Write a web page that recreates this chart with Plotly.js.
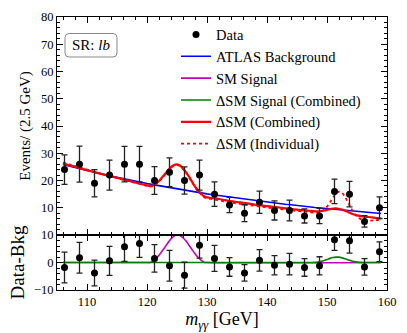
<!DOCTYPE html>
<html>
<head>
<meta charset="utf-8">
<script src="https://cdn.plot.ly/plotly-3.0.1.min.js"></script>
<style>html,body{margin:0;padding:0;background:#fff;}#chart{width:407px;height:333px;}</style>
</head>
<body>
<div id="chart"></div>
<script>
// Bin centres (GeV) and observed data
const binCentres = [106.25,108.75,111.25,113.75,116.25,118.75,121.25,123.75,126.25,128.75,131.25,133.75,136.25,138.75,141.25,143.75,146.25,148.75,151.25,153.75,156.25,158.75];
const dataEvents = [24,26,19,22,26,26,20,23,20,22,15,11,8,12,9,9,7,7,16,15,5,10];
const dataErrors = [5.4,6.6,5.0,5.5,6.5,6.5,5.1,5.3,5.0,5.5,4.5,2.8,3.1,4.1,3.5,3.8,2.6,2.8,4.5,4.7,2.1,4.0];
const residuals = [-1.8,1.7,-3.8,0.6,5.7,6.9,1.5,-1.2,-4.6,6.3,1.5,-1.6,-3.8,0.8,-1.0,-0.6,-1.8,-1.2,8.3,7.9,-1.6,3.9];
const residualErrors = [5.6,5.6,4.7,5.3,5.3,5.0,5.0,5.6,4.7,4.7,4.7,3.4,3.0,3.9,3.5,3.9,3.2,3.3,3.9,4.5,3.0,3.6];

// ATLAS background curve
const bkgMass = [106,107,108,109,110,111,112,113,114,115,116,117,118,119,120,121,122,123,124,125,126,127,128,129,130,131,132,133,134,135,136,137,138,139,140,141,142,143,144,145,146,147,148,149,150,151,152,153,154,155,156,157,158,159];
const bkgValues = [25.9,25.3,24.8,24.2,23.7,23.2,22.6,22.1,21.6,21.2,20.7,20.2,19.8,19.3,18.9,18.5,18.1,17.7,17.3,16.9,16.5,16.2,15.8,15.5,15.1,14.8,14.5,14.1,13.8,13.5,13.2,12.9,12.6,12.4,12.1,11.8,11.6,11.3,11.1,10.8,10.6,10.4,10.1,9.9,9.7,9.5,9.3,9.1,8.9,8.7,8.5,8.3,8.1,7.9];

// ΔSM (Combined) curve
const combMass = [106,107,108,109,110,111,112,113,114,115,116,117,118,119,120,120.5,121,121.5,122,122.5,123,123.5,124,124.5,125,125.5,126,126.5,127,127.5,128,128.5,129,129.5,130,131,132,133,134,135,136,137,138,139,140,141,142,143,144,145,146,147,148,148.5,149,149.5,150,150.5,151,151.5,152,152.5,153,153.5,154,154.5,155,156,157,158,159];
const combValues = [26.3,25.6,25.1,24.4,23.8,23.2,22.6,22.0,21.5,21.0,20.4,19.8,19.3,18.7,18.2,18.0,18.2,18.9,19.8,21.1,22.4,23.7,24.9,25.7,25.9,25.5,24.4,23.1,21.4,19.6,17.8,16.4,15.2,14.2,13.8,13.5,13.2,12.8,12.4,12.1,11.8,11.5,11.1,10.9,10.6,10.3,10.1,9.8,9.6,9.3,9.1,8.9,8.7,8.7,8.8,9.0,9.2,9.5,9.7,9.8,9.6,9.3,8.9,8.4,7.9,7.5,7.2,6.8,6.6,6.3,6.1];

// ΔSM (Individual) curve
const indivMass = [106,107,108,109,110,111,112,113,114,115,116,117,118,119,120,120.5,121,121.5,122,122.5,123,123.5,124,124.5,125,125.5,126,126.5,127,127.5,128,128.5,129,129.5,130,131,132,133,134,135,136,137,138,139,140,141,142,143,144,145,146,147,148,148.5,149,149.5,150,150.5,151,151.5,152,152.5,153,153.5,154,154.5,155,155.5,156,157,158,159];
const indivValues = [26.6,25.9,25.3,24.6,24.0,23.3,22.7,22.1,21.5,20.9,20.3,19.7,19.2,18.6,18.0,17.8,18.0,18.7,19.6,20.9,22.2,23.5,24.7,25.5,25.7,25.3,24.2,22.9,21.2,19.4,17.6,16.1,14.9,13.9,13.5,13.1,12.7,12.3,11.9,11.6,11.3,11.0,10.7,10.4,10.1,9.8,9.6,9.3,9.1,8.8,8.6,8.4,8.2,8.2,8.5,9.2,10.4,12.0,13.8,15.2,15.9,15.5,14.0,12.0,9.9,8.1,6.8,6.0,5.5,5.3,5.4,5.7];

// SM signal (lower panel)
const smMass = [106,120,120.5,121,121.5,122,122.5,123,123.5,124,124.5,125,125.5,126,126.5,127,127.5,128,128.5,129,129.5,130,159];
const smValues = [0,0,0,0.5,1.4,2.6,4.1,5.6,7.2,8.6,9.6,10.0,9.8,9.0,7.8,6.3,4.7,3.2,1.9,0.9,0.1,0,0];

// ΔSM signal (Combined), lower panel
const dsmMass = [106,147,148,148.5,149,149.5,150,150.5,151,151.5,152,152.5,153,153.5,154,154.5,155,156,159];
const dsmValues = [0,0,0.05,0.2,0.4,0.7,1.1,1.5,1.8,1.95,1.95,1.7,1.4,1.0,0.6,0.35,0.15,0,0];

const FONT = '"Liberation Serif", "DejaVu Serif", serif';

const traces = [
  {x: bkgMass, y: bkgValues, type: 'scatter', mode: 'lines', name: 'ATLAS Background',
   xaxis: 'x2', yaxis: 'y', line: {color: '#0000ff', width: 1.6}, legendrank: 2},
  {x: combMass, y: combValues, type: 'scatter', mode: 'lines', name: 'ΔSM (Combined)',
   xaxis: 'x2', yaxis: 'y', line: {color: '#ff0000', width: 2.2, shape: 'spline'}, legendrank: 5},
  {x: indivMass, y: indivValues, type: 'scatter', mode: 'lines', name: 'ΔSM (Individual)',
   xaxis: 'x2', yaxis: 'y', line: {color: '#ff0000', width: 1.8, dash: 'dot', shape: 'spline'}, legendrank: 6},
  {x: binCentres, y: dataEvents, type: 'scatter', mode: 'markers', name: 'Data',
   xaxis: 'x2', yaxis: 'y', marker: {color: '#000', size: 7},
   error_y: {type: 'data', array: dataErrors, visible: true, color: '#222', thickness: 1.3, width: 3},
   legendrank: 1},
  {x: smMass, y: smValues, type: 'scatter', mode: 'lines', name: 'SM Signal',
   xaxis: 'x', yaxis: 'y2', line: {color: '#bf00bf', width: 1.6, shape: 'spline'}, legendrank: 3},
  {x: dsmMass, y: dsmValues, type: 'scatter', mode: 'lines', name: 'ΔSM Signal (Combined)',
   xaxis: 'x', yaxis: 'y2', line: {color: '#008000', width: 1.6, shape: 'spline'}, legendrank: 4},
  {x: binCentres, y: residuals, type: 'scatter', mode: 'markers', name: 'Residual', showlegend: false,
   xaxis: 'x', yaxis: 'y2', marker: {color: '#000', size: 7},
   error_y: {type: 'data', array: residualErrors, visible: true, color: '#222', thickness: 1.3, width: 3}}
];

const tickFont = {family: FONT, size: 12.5, color: '#000'};
const commonX = {
  range: [105, 160], tickvals: [110,120,130,140,150,160], ticks: 'inside', ticklen: 6,
  tickcolor: '#000', tickwidth: 1, showline: true, linecolor: '#000', linewidth: 1,
  mirror: 'allticks', showgrid: false, zeroline: false,
  minor: {ticks: 'inside', dtick: 2, tick0: 0, ticklen: 3, tickcolor: '#000', showgrid: false}
};

const pTop = 17, pBot = 290;
const H = pBot - pTop;
const px = v => (v - 57) / 330;
const py = v => (pBot - v) / H;
const bx0 = px(65), bx1 = px(117), by1 = py(33.5), by0 = py(57);
const rx = 4/330, ry = 4/H;
const boxPath = `M ${bx0+rx},${by1} L ${bx1-rx},${by1} Q ${bx1},${by1} ${bx1},${by1-ry} L ${bx1},${by0+ry} Q ${bx1},${by0} ${bx1-rx},${by0} L ${bx0+rx},${by0} Q ${bx0},${by0} ${bx0},${by0+ry} L ${bx0},${by1-ry} Q ${bx0},${by1} ${bx0+rx},${by1} Z`;

const layout = {
  width: 407, height: 333,
  margin: {l: 57, r: 20, t: pTop, b: 333 - pBot},
  paper_bgcolor: '#fff', plot_bgcolor: '#fff',
  font: {family: FONT, color: '#000'},
  showlegend: true,
  legend: {x: px(176), y: py(18.5), xanchor: 'left', yanchor: 'top',
           bgcolor: 'rgba(0,0,0,0)', borderwidth: 0,
           font: {family: FONT, size: 14.5, color: '#000'}},
  xaxis: Object.assign({}, commonX, {anchor: 'y2', domain: [0, 1], tickfont: tickFont,
           title: {text: '<i>m</i><sub><i>γγ</i></sub> [GeV]', font: {family: FONT, size: 18}, standoff: 4}}),
  xaxis2: Object.assign({}, commonX, {anchor: 'y', matches: 'x', showticklabels: false}),
  yaxis: {anchor: 'x2', domain: [55/H, 1], range: [0, 80], tickvals: [10,20,30,40,50,60,70,80],
          ticks: 'inside', ticklen: 6, tickcolor: '#000', showline: true, linecolor: '#000', linewidth: 1,
          mirror: 'allticks', showgrid: false, zeroline: false, tickfont: tickFont,
          minor: {ticks: 'inside', dtick: 2, tick0: 0, ticklen: 3, tickcolor: '#000', showgrid: false},
          title: {text: 'Events/ (2.5 GeV)', font: {family: FONT, size: 15}, standoff: 6}},
  yaxis2: {anchor: 'x', domain: [0, 55/H], range: [-10, 10], tickvals: [-10, 0, 10],
          ticks: 'inside', ticklen: 6, tickcolor: '#000', showline: true, linecolor: '#000', linewidth: 1,
          mirror: 'allticks', showgrid: false, zeroline: true, zerolinecolor: '#000', zerolinewidth: 1.5,
          tickfont: tickFont,
          minor: {ticks: 'inside', dtick: 2, tick0: 0, ticklen: 3, tickcolor: '#000', showgrid: false},
          title: {text: 'Data-Bkg', font: {family: FONT, size: 19}, standoff: 4}},
  shapes: [
    {type: 'path', xref: 'paper', yref: 'paper', path: boxPath,
     line: {color: '#888', width: 1}, fillcolor: 'rgba(255,255,255,0.9)'}
  ],
  annotations: [
    {xref: 'paper', yref: 'paper', x: (bx0 + bx1) / 2, y: (by0 + by1) / 2, xanchor: 'center', yanchor: 'middle',
     text: 'SR: <i>lb</i>', showarrow: false, font: {family: FONT, size: 15, color: '#000'}}
  ]
};

Plotly.newPlot('chart', traces, layout, {displayModeBar: false, staticPlot: true});
</script>
</body>
</html>
